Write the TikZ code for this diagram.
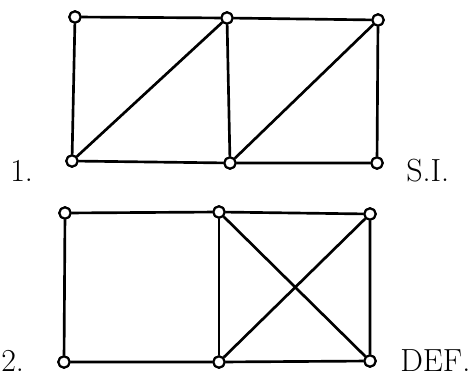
\documentclass[tikz,border=0pt]{standalone}
\usepackage{tikz}
\usetikzlibrary{positioning}
\tikzset{
  vtx/.style={draw, circle, fill=white, inner sep=0pt, minimum size=8.5pt, line width=1.6pt},
  edge/.style={line width=2pt},
  lbl/.style={font=\fontsize{24}{29}\selectfont, anchor=base west, inner sep=0pt}
}
\begin{document}
\begin{tikzpicture}[x=0.75pt, y=-0.75pt]
  \useasboundingbox (0,0) rectangle (473,382);

  %% Graph 1
  \node[vtx] (p1) at (75,17)  {};
  \node[vtx] (p2) at (227,18) {};
  \node[vtx] (p3) at (378,20) {};
  \node[vtx] (q1) at (72,161) {};
  \node[vtx] (q2) at (230,163) {};
  \node[vtx] (q3) at (377,163) {};

  \draw[edge] (p1) -- (p2) -- (p3) -- (q3) -- (q2) -- (q1) -- (p1);
  \draw[edge] (p2) -- (q2);
  \draw[edge] (q1) -- (p2);
  \draw[edge] (q2) -- (p3);
  \foreach \v in {p1,p2,p3,q1,q2,q3} \node[vtx] at (\v) {};

  \node[lbl] (n1) at (10,181) {1.};
  \node[lbl] (si) at (406,181) {S.I.};

  %% Graph 2
  \node[vtx] (r1) at (65,213)  {};
  \node[vtx] (r2) at (219,212) {};
  \node[vtx] (r3) at (370,214) {};
  \node[vtx] (s1) at (64,362)  {};
  \node[vtx] (s2) at (219,362) {};
  \node[vtx] (s3) at (370,361) {};

  \draw[edge] (r1) -- (r2) -- (r3) -- (s3) -- (s2) -- (s1) -- (r1);
  \draw[edge] (r2) -- (s2);
  \draw[edge] (r2) -- (s3);
  \draw[edge] (s2) -- (r3);
  \foreach \v in {r1,r2,r3,s1,s2,s3} \node[vtx] at (\v) {};

  \node[lbl] (n2) at (1,371) {2.};
  \node[lbl] (def) at (400,371) {DEF.};
\end{tikzpicture}
\end{document}
